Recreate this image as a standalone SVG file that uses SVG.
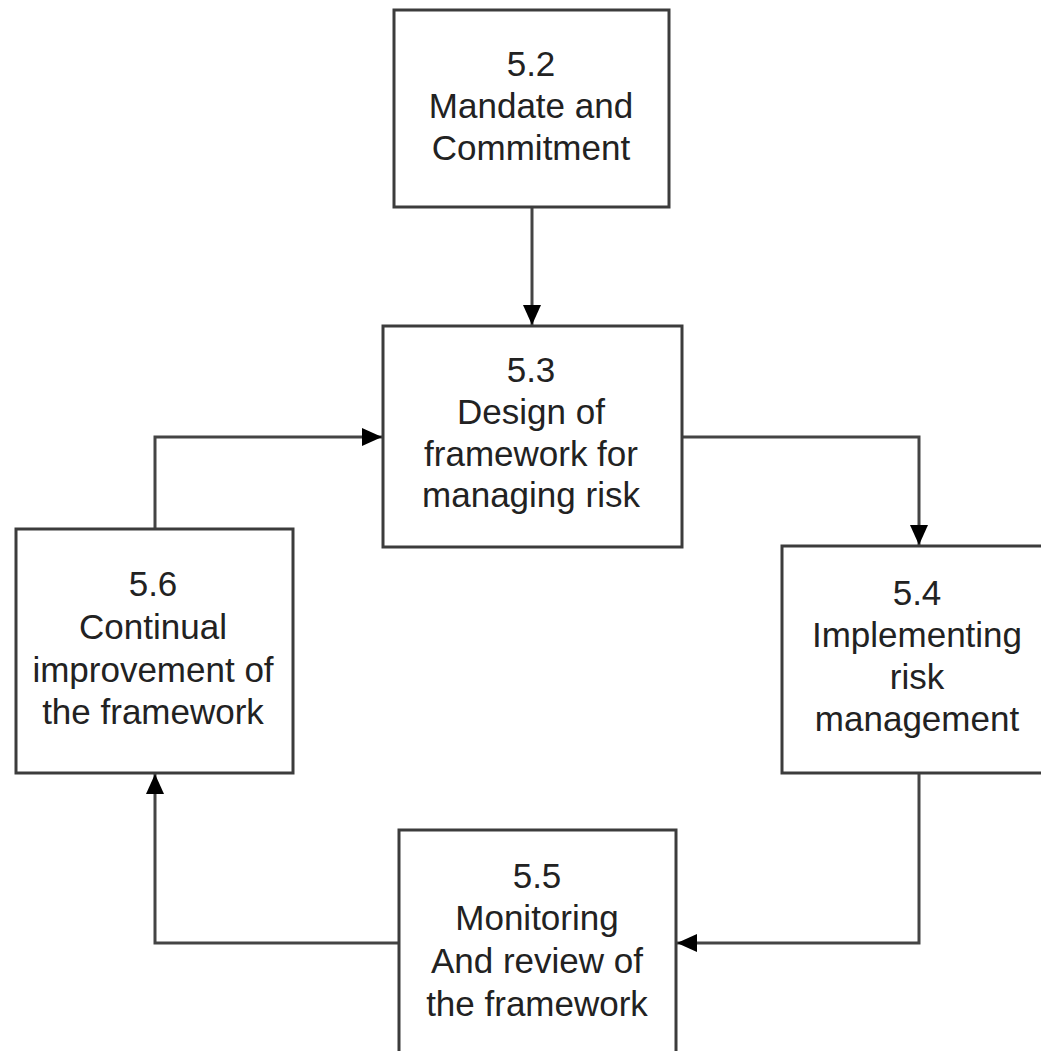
<svg xmlns="http://www.w3.org/2000/svg" width="1041" height="1051" viewBox="0 0 1041 1051">
<style>
.box{fill:#fff;stroke:#3c3c3c;stroke-width:3}
.lbl{font-family:"Liberation Sans",Arial,sans-serif;font-size:35px;fill:#222;text-anchor:middle}
.conn{fill:none;stroke:#444;stroke-width:3}
</style>
<defs>
<marker id="arr" markerUnits="userSpaceOnUse" markerWidth="20" markerHeight="20" refX="20" refY="9" orient="auto">
<path d="M0,0 L20,9 L0,18 Z" fill="#000"/>
</marker>
</defs>
<rect width="1041" height="1051" fill="#fff"/>
<g id="connectors">
<path class="conn" d="M532,207 V325" marker-end="url(#arr)"/>
<path class="conn" d="M682,437 H919 V545" marker-end="url(#arr)"/>
<path class="conn" d="M919,773 V943 H677" marker-end="url(#arr)"/>
<path class="conn" d="M399,943 H155 V774" marker-end="url(#arr)"/>
<path class="conn" d="M155,529 V437 H382" marker-end="url(#arr)"/>
</g>
<g id="n52">
<rect class="box" x="394" y="10" width="275" height="197"/>
<text class="lbl" x="531" y="76">5.2</text>
<text class="lbl" x="531" y="118">Mandate and</text>
<text class="lbl" x="531" y="160">Commitment</text>
</g>
<g id="n53">
<rect class="box" x="383" y="326" width="299" height="221"/>
<text class="lbl" x="531" y="382">5.3</text>
<text class="lbl" x="531" y="424">Design of</text>
<text class="lbl" x="531" y="466">framework for</text>
<text class="lbl" x="531" y="507">managing risk</text>
</g>
<g id="n54">
<rect class="box" x="782" y="546" width="275" height="227"/>
<text class="lbl" x="917" y="605">5.4</text>
<text class="lbl" x="917" y="647">Implementing</text>
<text class="lbl" x="917" y="689">risk</text>
<text class="lbl" x="917" y="731">management</text>
</g>
<g id="n56">
<rect class="box" x="16" y="529" width="277" height="244"/>
<text class="lbl" x="153" y="596">5.6</text>
<text class="lbl" x="153" y="639">Continual</text>
<text class="lbl" x="153" y="682">improvement of</text>
<text class="lbl" x="153" y="724">the framework</text>
</g>
<g id="n55">
<rect class="box" x="399" y="830" width="277" height="240"/>
<text class="lbl" x="537" y="888">5.5</text>
<text class="lbl" x="537" y="930">Monitoring</text>
<text class="lbl" x="537" y="973">And review of</text>
<text class="lbl" x="537" y="1016">the framework</text>
</g>
</svg>
